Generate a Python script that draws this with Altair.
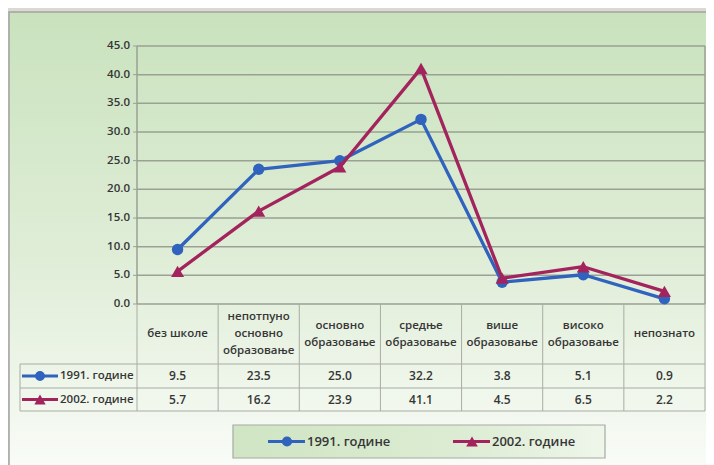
import altair as alt
import pandas as pd

categories = ["без школе", "непотпуно\nосновно\nобразовање", "основно\nобразовање",
              "средње\nобразовање", "више\nобразовање", "високо\nобразовање", "непознато"]
series = ["1991. године", "2002. године"]
values_1991 = [9.5, 23.5, 25.0, 32.2, 3.8, 5.1, 0.9]
values_2002 = [5.7, 16.2, 23.9, 41.1, 4.5, 6.5, 2.2]
y_ticks = [0, 5, 10, 15, 20, 25, 30, 35, 40, 45]
colors = ["#2f63bd", "#a3245d"]
shapes = ["circle", "triangle-up"]
sizes = [130, 170]

rows = []
for s, vals in zip(series, [values_1991, values_2002]):
    for c, v in zip(categories, vals):
        rows.append({"cat": c, "series": s, "value": v, "label": f"{v:.1f}"})
df = pd.DataFrame(rows)
df_cat = pd.DataFrame({"cat": categories})
df_ticks = pd.DataFrame({"tick": y_ticks})
df_series = pd.DataFrame({"series": series})
one = pd.DataFrame({"k": [0]})

W, H = 568, 258
FONT = "Open Sans"
TXT = "#363636"
GRID = "#9aa193"
BORDER = "#a9aca4"

xs = alt.Scale(type="band", domain=categories, paddingInner=0, paddingOuter=0)
ys = alt.Scale(domain=[0, 45], nice=False, zero=True)
X = lambda bp: alt.X("cat:N", scale=xs, axis=None, bandPosition=bp)

layers = []

# background box with vertical gradient
layers.append(alt.Chart(one).mark_rect(
    fill={"gradient": "linear", "x1": 0, "y1": 0, "x2": 0, "y2": 1,
          "stops": [{"offset": 0, "color": "#c9e2bd"}, {"offset": 0.55, "color": "#e1eed9"},
                    {"offset": 1, "color": "#fbfdfa"}]},
    stroke="#a2a2a2", strokeWidth=1.5
).encode(x=alt.value(-128), x2=alt.value(600), y=alt.value(-34), y2=alt.value(440)))

# gridlines
layers.append(alt.Chart(df_ticks).mark_rule(color=GRID, strokeWidth=1.5).encode(
    y=alt.Y("tick:Q", scale=ys, axis=None), x=alt.value(0), x2=alt.value(W)))
# tick marks
layers.append(alt.Chart(df_ticks).mark_rule(color=GRID, strokeWidth=1).encode(
    y=alt.Y("tick:Q", scale=ys, axis=None), x=alt.value(-4), x2=alt.value(0)))
# tick labels
layers.append(alt.Chart(df_ticks).mark_text(
    align="right", baseline="middle", font=FONT, fontSize=11.5, fontWeight=600, color=TXT
).encode(y=alt.Y("tick:Q", scale=ys, axis=None), x=alt.value(-7),
         text=alt.Text("tick:Q", format=".1f")))

# plot borders (left axis line + right edge)
layers.append(alt.Chart(one).mark_rule(color=GRID, strokeWidth=1.5).encode(
    x=alt.value(0), y=alt.value(0), y2=alt.value(H)))
layers.append(alt.Chart(one).mark_rule(color=GRID, strokeWidth=1.5).encode(
    x=alt.value(W), y=alt.value(0), y2=alt.value(H)))

# table grid
layers.append(alt.Chart(df_cat).mark_rule(color=BORDER, strokeWidth=1).encode(
    x=X(0), y=alt.value(H), y2=alt.value(365)))
layers.append(alt.Chart(one).mark_rule(color=BORDER, strokeWidth=1).encode(
    x=alt.value(W), y=alt.value(H), y2=alt.value(365)))
layers.append(alt.Chart(one).mark_rule(color=BORDER, strokeWidth=1).encode(
    x=alt.value(-117), y=alt.value(318), y2=alt.value(365)))
for yy in [318, 342, 365]:
    layers.append(alt.Chart(one).mark_rule(color=BORDER, strokeWidth=1).encode(
        x=alt.value(-117), x2=alt.value(W), y=alt.value(yy)))

# category header labels, vertically centred by number of lines
LH = 17
for n in [1, 2, 3]:
    layers.append(alt.Chart(df_cat).transform_calculate(
        nl="length(split(datum.cat, '\\n'))"
    ).transform_filter(f"datum.nl == {n}").mark_text(
        align="center", baseline="middle", lineBreak="\n", lineHeight=LH,
        font=FONT, fontSize=11.5, fontWeight=600, color=TXT
    ).encode(x=X(0.5), y=alt.value(288 - (n - 1) * LH / 2), text="cat:N"))

row_y = [330, 353.5]
leg_x = [131, 316]

for i, s in enumerate(series):
    sub = df[df.series == s]
    ssub = df_series[df_series.series == s]
    layers.append(alt.Chart(sub).mark_line(
        color=colors[i], strokeWidth=3.3, strokeJoin="round"
    ).encode(x=X(0.5), y=alt.Y("value:Q", scale=ys, axis=None)))
    layers.append(alt.Chart(sub).mark_point(
        shape=shapes[i], size=sizes[i], filled=True, opacity=1, color=colors[i]
    ).encode(x=X(0.5), y=alt.Y("value:Q", scale=ys, axis=None)))
    layers.append(alt.Chart(sub).mark_text(
        align="center", baseline="middle", font=FONT, fontSize=12, fontWeight=600, color=TXT
    ).encode(x=X(0.5), y=alt.value(row_y[i]), text="label:N"))
    layers.append(alt.Chart(ssub).mark_rule(color=colors[i], strokeWidth=3).encode(
        x=alt.value(-115), x2=alt.value(-79), y=alt.value(row_y[i])))
    layers.append(alt.Chart(ssub).mark_point(
        shape=shapes[i], size=sizes[i] * 0.75, filled=True, opacity=1, color=colors[i]
    ).encode(x=alt.value(-97), y=alt.value(row_y[i])))
    layers.append(alt.Chart(ssub).mark_text(
        align="left", baseline="middle", font=FONT, fontSize=11.5, fontWeight=600, color=TXT
    ).encode(x=alt.value(-77), y=alt.value(row_y[i]), text="series:N"))

# legend box
layers.append(alt.Chart(one).mark_rect(
    fill={"gradient": "linear", "x1": 0, "y1": 0, "x2": 1, "y2": 0,
          "stops": [{"offset": 0, "color": "#cfe5c3"}, {"offset": 0.6, "color": "#dcecd3"},
                    {"offset": 1, "color": "#eef6ea"}]},
    stroke="#a8aaa4", strokeWidth=1.2
).encode(x=alt.value(96), x2=alt.value(468), y=alt.value(379), y2=alt.value(412)))

for i, s in enumerate(series):
    ssub = df_series[df_series.series == s]
    layers.append(alt.Chart(ssub).mark_rule(color=colors[i], strokeWidth=3).encode(
        x=alt.value(leg_x[i]), x2=alt.value(leg_x[i] + 37), y=alt.value(395.5)))
    layers.append(alt.Chart(ssub).mark_point(
        shape=shapes[i], size=sizes[i] * 0.8, filled=True, opacity=1, color=colors[i]
    ).encode(x=alt.value(leg_x[i] + 19), y=alt.value(395.5)))
    layers.append(alt.Chart(ssub).mark_text(
        align="left", baseline="middle", font=FONT, fontSize=13, fontWeight=600, color=TXT
    ).encode(x=alt.value(leg_x[i] + 39), y=alt.value(396), text="series:N"))

chart = alt.layer(*layers).properties(
    width=W, height=H,
    padding={"left": 129, "top": 38, "right": 1, "bottom": 161},
    autosize=alt.AutoSizeParams(type="none"),
    background="#dcd8d5",
).configure_view(strokeWidth=0)

chart.save("out.html", embed_options={"renderer": "svg", "actions": False})
